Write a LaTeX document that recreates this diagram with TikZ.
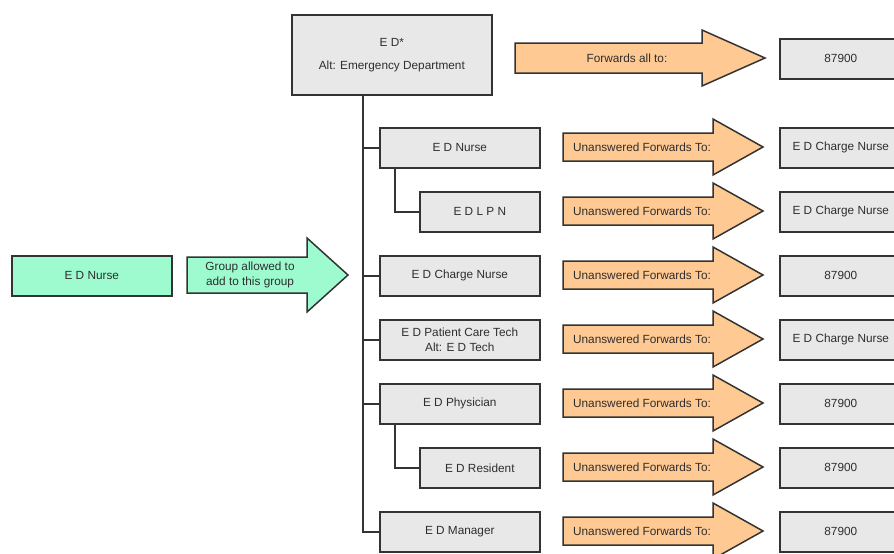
\documentclass[tikz,border=0pt]{standalone}
\usepackage{fontspec}
\setmainfont{Liberation Sans}
\definecolor{boxfill}{HTML}{E8E8E8}
\definecolor{boxline}{HTML}{333333}
\definecolor{orfill}{HTML}{FFC993}
\definecolor{grfill}{HTML}{9DFBCF}
\definecolor{txt}{HTML}{2E2E2E}
\newcommand{\orarrow}[3]{%
  \path[arrowshape, fill=orfill] (563,#1-14) -- (713,#1-14) -- (713,#1-28) -- (763,#1) -- (713,#1+28) -- (713,#1+14) -- (563,#1+14) -- cycle;
  \node[lbl] (#2) at (642,#1) {#3};}
\begin{document}
\begin{tikzpicture}[x=1pt,y=-1pt,
  box/.style={draw=boxline, fill=boxfill, line width=1.6pt, minimum width=160pt, minimum height=40pt,
    inner sep=0pt, anchor=north west, font=\fontsize{11.8}{15}\selectfont, text=txt, align=center},
  sbox/.style={box, minimum width=120pt},
  rbox/.style={box, minimum width=122pt},
  gbox/.style={box, fill=grfill},
  arrowshape/.style={draw=boxline, line width=1.5pt, line join=miter},
  lbl/.style={font=\fontsize{11.8}{15}\selectfont, text=txt, align=center, inner sep=0pt},
  conn/.style={draw=boxline, line width=1.6pt}]
\useasboundingbox (0,0) rectangle (894,554);
\clip (0,0) rectangle (894,554);
% top box
\node[box, minimum width=200pt, minimum height=80pt] (ed) at (291,14) {E D*\\[8pt]Alt: Emergency Department};
\path[arrowshape, fill=orfill] (515,43) -- (702,43) -- (702,30) -- (765,58) -- (702,86) -- (702,73) -- (515,73) -- cycle;
\node[lbl] (fa) at (627,58.5) {Forwards all to:};
\node[rbox] (r0) at (779,38) {87900};
% member boxes
\node[box] (nurse) at (379,127) {E D Nurse};
\node[sbox] (lpn) at (419,191) {E D L P N};
\node[box] (charge) at (379,255) {E D Charge Nurse};
\node[box] (pct) at (379,319) {E D Patient Care Tech\\Alt: E D Tech};
\node[box] (phys) at (379,383) {E D Physician};
\node[sbox] (res) at (419,447) {E D Resident};
\node[box] (mgr) at (379,511) {E D Manager};
% connectors
\coordinate (t0) at (363,94);
\coordinate (s1) at (395,167);
\coordinate (s2) at (395,423);
\draw[conn] (t0) |- (mgr.west);
\draw[conn] (t0 |- nurse.west) -- (nurse.west);
\draw[conn] (t0 |- charge.west) -- (charge.west);
\draw[conn] (t0 |- pct.west) -- (pct.west);
\draw[conn] (t0 |- phys.west) -- (phys.west);
\draw[conn] (s1) |- (lpn.west);
\draw[conn] (s2) |- (res.west);
% forward arrows
\orarrow{147}{a1}{Unanswered Forwards To:}
\orarrow{211}{a2}{Unanswered Forwards To:}
\orarrow{275}{a3}{Unanswered Forwards To:}
\orarrow{339}{a4}{Unanswered Forwards To:}
\orarrow{403}{a5}{Unanswered Forwards To:}
\orarrow{467}{a6}{Unanswered Forwards To:}
\orarrow{531}{a7}{Unanswered Forwards To:}
% targets
\node[rbox] (r1) at (779,127) {E D Charge Nurse};
\node[rbox] (r2) at (779,191) {E D Charge Nurse};
\node[rbox] (r3) at (779,255) {87900};
\node[rbox] (r4) at (779,319) {E D Charge Nurse};
\node[rbox] (r5) at (779,383) {87900};
\node[rbox] (r6) at (779,447) {87900};
\node[rbox] (r7) at (779,511) {87900};
% green
\node[gbox] (gn) at (11,255) {E D Nurse};
\path[arrowshape, fill=grfill] (187,257) -- (307,257) -- (307,238) -- (348,275) -- (307,312) -- (307,293) -- (187,293) -- cycle;
\node[lbl] (ga) at (250,275) {Group allowed to\\add to this group};
\end{tikzpicture}
\end{document}
